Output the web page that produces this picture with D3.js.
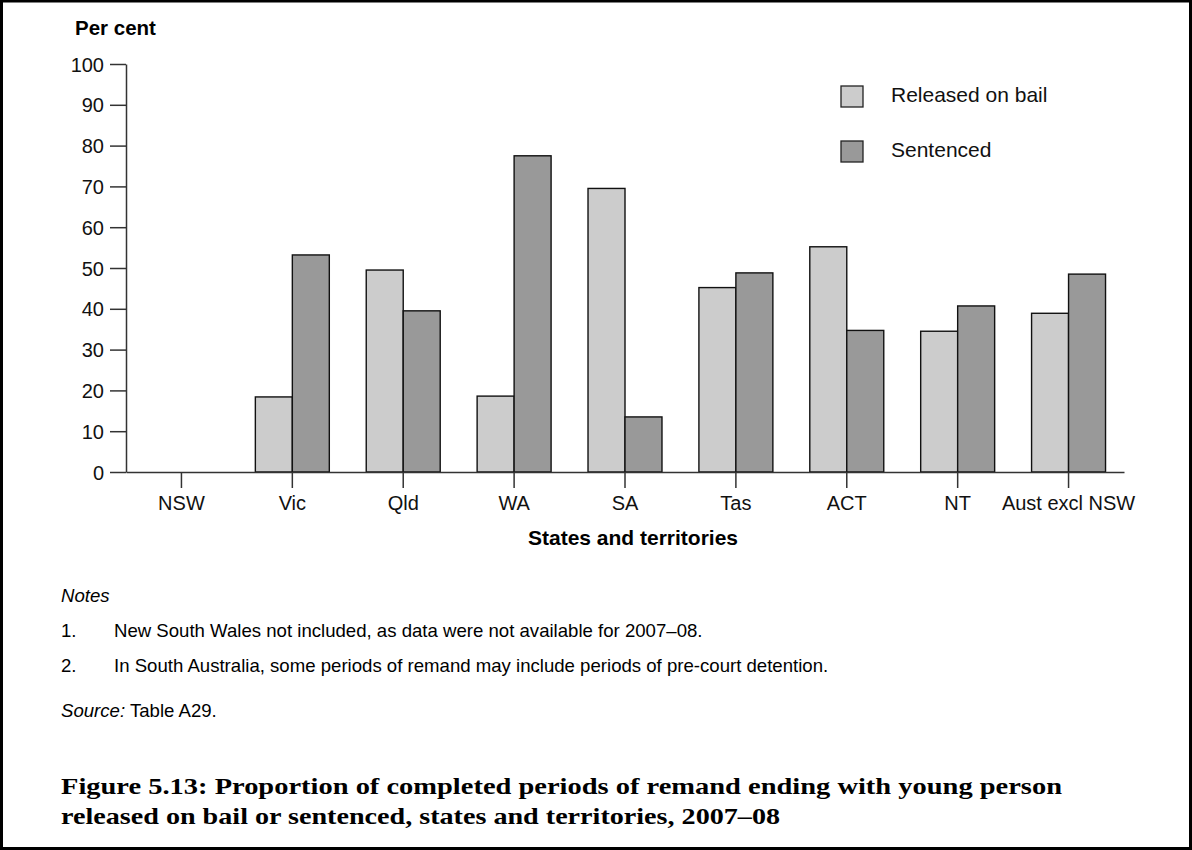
<!DOCTYPE html>
<html>
<head>
<meta charset="utf-8">
<script src="https://cdn.jsdelivr.net/npm/d3@7"></script>
<style>
    body { margin: 0; background: #fff; }
    svg { display: block; font-family: "Liberation Sans", Arial, sans-serif; }
</style>
</head>
<body>
<svg id="chart" width="1192" height="850"></svg>
<script>
// data
var states = ["NSW", "Vic", "Qld", "WA", "SA", "Tas", "ACT", "NT", "Aust excl NSW"];
var seriesNames = ["Released on bail", "Sentenced"];
var releasedOnBail = [null, 18.4, 49.5, 18.6, 69.5, 45.2, 55.2, 34.5, 38.9];
var sentenced = [null, 53.2, 39.5, 77.5, 13.5, 48.8, 34.7, 40.7, 48.5];
var yTicks = [0, 10, 20, 30, 40, 50, 60, 70, 80, 90, 100];
var colors = ["#cccccc", "#999999"];

var notes = [
    "New South Wales not included, as data were not available for 2007\u201308.",
    "In South Australia, some periods of remand may include periods of pre-court detention."
];
var titleLines = [
    "Figure 5.13: Proportion of completed periods of remand ending with young person",
    "released on bail or sentenced, states and territories, 2007\u201308"
];

function drawChart() {
    var svg = d3.select("#chart");

    // frame
    svg.append("rect")
        .attr("x", 1.5)
        .attr("y", 1)
        .attr("width", 1189)
        .attr("height", 847.5)
        .attr("fill", "none")
        .attr("stroke", "#000")
        .attr("stroke-width", 3);

    var left = 126, right = 1124, top = 64, bottom = 472;

    var x0 = d3.scaleBand()
        .domain(states)
        .range([left, right])
        .paddingInner(0.333)
        .paddingOuter(0.1665);

    var x1 = d3.scaleBand()
        .domain(seriesNames)
        .range([0, x0.bandwidth()]);

    var y = d3.scaleLinear()
        .domain([0, 100])
        .range([bottom, top]);

    var rows = states.map((s, i) => ({
        state: s,
        values: [releasedOnBail[i], sentenced[i]]
    }));

    // bars
    var groups = svg.append("g")
        .selectAll("g")
        .data(rows)
        .enter()
        .append("g")
        .attr("transform", d => "translate(" + x0(d.state) + ",0)");

    groups.selectAll("rect")
        .data(d => d.values.map((v, j) => ({ name: seriesNames[j], value: v, idx: j }))
            .filter(e => e.value !== null))
        .enter()
        .append("rect")
        .attr("x", d => x1(d.name))
        .attr("y", d => y(d.value))
        .attr("width", x1.bandwidth())
        .attr("height", d => y(0) - y(d.value))
        .attr("fill", d => colors[d.idx])
        .attr("stroke", "#111")
        .attr("stroke-width", 1.4);

    // y axis
    var yAxis = svg.append("g")
        .attr("transform", "translate(" + left + ",0)")
        .call(d3.axisLeft(y).tickValues(yTicks).tickSize(16).tickSizeOuter(0).tickPadding(6));

    // x axis
    var xAxis = svg.append("g")
        .attr("transform", "translate(0," + bottom + ")")
        .call(d3.axisBottom(x0).tickSize(16).tickSizeOuter(0).tickPadding(8));

    [yAxis, xAxis].forEach(a => {
        a.selectAll("path, line")
            .attr("stroke", "#333")
            .attr("stroke-width", 1.5);
        a.selectAll("text")
            .attr("fill", "#111")
            .style("font-family", "'Liberation Sans', Arial, sans-serif")
            .style("font-size", "20px");
    });
    yAxis.selectAll("text").attr("dy", "0.35em");

    svg.append("text")
        .attr("x", 75)
        .attr("y", 35)
        .attr("font-size", 20.5)
        .attr("font-weight", "bold")
        .text("Per cent");

    svg.append("text")
        .attr("x", 633)
        .attr("y", 545)
        .attr("text-anchor", "middle")
        .attr("font-size", 21)
        .attr("font-weight", "bold")
        .text("States and territories");

    // legend
    var legend = svg.append("g")
        .selectAll("g")
        .data(seriesNames)
        .enter()
        .append("g")
        .attr("transform", (d, i) => "translate(841," + (86 + i * 55) + ")");

    legend.append("rect")
        .attr("width", 22)
        .attr("height", 21)
        .attr("fill", (d, i) => colors[i])
        .attr("stroke", "#222")
        .attr("stroke-width", 1.3);

    legend.append("text")
        .attr("x", 50)
        .attr("y", 16)
        .attr("font-size", 21)
        .attr("fill", "#111")
        .text(d => d);

    // notes
    svg.append("text")
        .attr("x", 61)
        .attr("y", 602)
        .attr("font-size", 18.6)
        .attr("font-style", "italic")
        .text("Notes");

    var noteRows = svg.append("g")
        .selectAll("g")
        .data(notes)
        .enter()
        .append("g")
        .attr("transform", (d, i) => "translate(0," + (637 + i * 35) + ")");

    noteRows.append("text")
        .attr("x", 61)
        .attr("font-size", 18.6)
        .text((d, i) => (i + 1) + ".");

    noteRows.append("text")
        .attr("x", 114)
        .attr("font-size", 18.6)
        .text(d => d);

    var source = svg.append("text")
        .attr("x", 61)
        .attr("y", 717)
        .attr("font-size", 18.6);
    source.append("tspan").attr("font-style", "italic").text("Source:");
    source.append("tspan").text(" Table A29.");

    // caption
    var titleWidths = [1001, 719];
    svg.append("g")
        .selectAll("text")
        .data(titleLines)
        .enter()
        .append("text")
        .attr("x", 61)
        .attr("y", (d, i) => 794 + i * 30)
        .attr("font-family", "'Liberation Serif', 'DejaVu Serif', serif")
        .attr("font-weight", "bold")
        .attr("font-size", 24)
        .attr("textLength", (d, i) => titleWidths[i])
        .attr("lengthAdjust", "spacingAndGlyphs")
        .text(d => d);
}

drawChart();
</script>
</body>
</html>
